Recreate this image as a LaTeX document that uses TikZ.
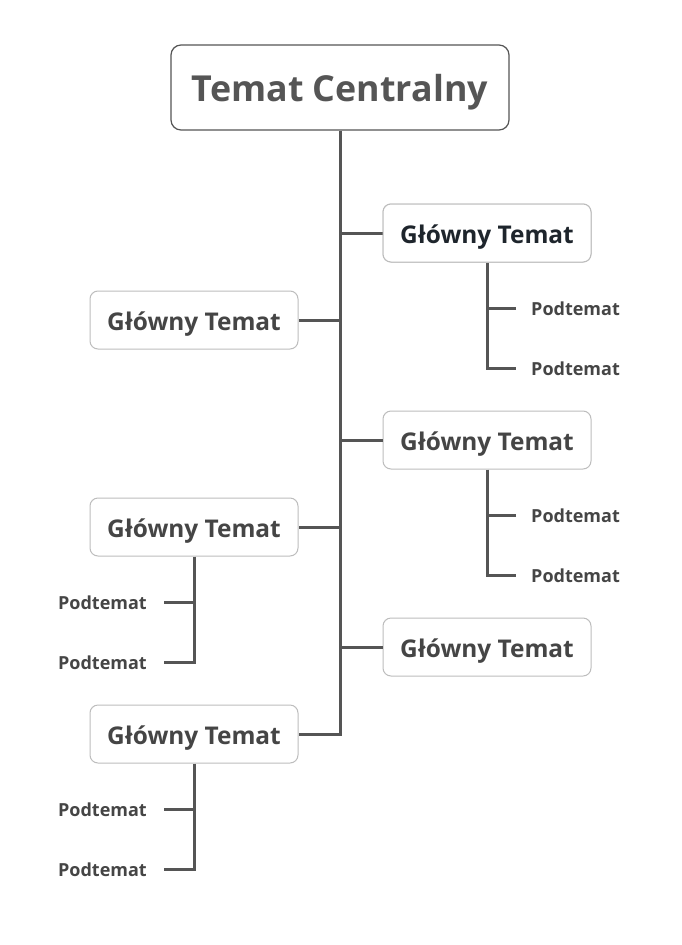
\documentclass[tikz,border=0pt]{standalone}
\usepackage{fontspec}
\setmainfont{Open Sans}
\definecolor{linec}{HTML}{555555}
\definecolor{txt}{HTML}{454545}
\definecolor{darktxt}{HTML}{1E252C}
\definecolor{boxb}{HTML}{BDBDBD}
\newcommand{\lowr}[2]{\raisebox{-#1}[\height][\depth]{#2}}
\tikzset{
  central/.style={draw=linec, line width=1.2pt, rounded corners=10pt, fill=white,
    minimum width=338pt, minimum height=85pt, text=linec,
    font=\fontsize{35.8}{42}\selectfont\bfseries},
  maintopic/.style={draw=boxb, line width=1pt, rounded corners=8pt, fill=white,
    minimum width=208pt, minimum height=58pt, text=txt,
    font=\fontsize{24.4}{29}\selectfont\bfseries},
  subtopic/.style={inner sep=0pt, text=txt, font=\fontsize{18}{21}\selectfont\bfseries},
  conn/.style={draw=linec, line width=3pt},
}
\newcommand{\gt}{\lowr{4pt}{Główny Temat}\hspace{6pt}}
\begin{document}
\begin{tikzpicture}[x=1pt,y=-1pt]
\useasboundingbox (0,0) rectangle (682,945);
\fill[white] (0,0) rectangle (682,945);
\node[central] (c) at (340,87.5) {\lowr{5pt}{Temat Centralny}};
\node[maintopic, text=darktxt] (r1) at (487,233) {\gt};
\node[maintopic] (r2) at (487,440) {\gt};
\node[maintopic] (r3) at (487,647) {\gt};
\node[maintopic] (l1) at (194,320) {\gt};
\node[maintopic] (l2) at (194,527) {\gt};
\node[maintopic] (l3) at (194,734) {\gt};
% subtopics
\node[subtopic, anchor=west] (r1a) at (531,309) {Podtemat};
\node[subtopic, anchor=west] (r1b) at (531,369) {Podtemat};
\node[subtopic, anchor=west] (r2a) at (531,516) {Podtemat};
\node[subtopic, anchor=west] (r2b) at (531,576) {Podtemat};
\node[subtopic, anchor=east] (l2a) at (147,603) {Podtemat};
\node[subtopic, anchor=east] (l2b) at (147,663) {Podtemat};
\node[subtopic, anchor=east] (l3a) at (147,810) {Podtemat};
\node[subtopic, anchor=east] (l3b) at (147,870) {Podtemat};
% trunk
\coordinate (trunkend) at (c.south |- l3.east);
\draw[conn] (c.south) -- (trunkend) -- (l3.east);
\draw[conn] (c.south |- r1.west) -- (r1.west);
\draw[conn] (c.south |- r2.west) -- (r2.west);
\draw[conn] (c.south |- r3.west) -- (r3.west);
\draw[conn] (c.south |- l1.east) -- (l1.east);
\draw[conn] (c.south |- l2.east) -- (l2.east);
% sub connectors
\draw[conn] ([xshift=-15pt,yshift=1pt]r1a.west) -| (r1.south);
\draw[conn] (r1.south) |- ([xshift=-15pt,yshift=1pt]r1b.west);
\draw[conn] ([xshift=-15pt,yshift=1pt]r2a.west) -| (r2.south);
\draw[conn] (r2.south) |- ([xshift=-15pt,yshift=1pt]r2b.west);
\draw[conn] ([xshift=17pt,yshift=1pt]l2a.east) -| (l2.south);
\draw[conn] (l2.south) |- ([xshift=17pt,yshift=1pt]l2b.east);
\draw[conn] ([xshift=17pt,yshift=1pt]l3a.east) -| (l3.south);
\draw[conn] (l3.south) |- ([xshift=17pt,yshift=1pt]l3b.east);
% redraw box on top
\node[maintopic, text=darktxt] at (r1) {\gt};
\end{tikzpicture}
\end{document}
